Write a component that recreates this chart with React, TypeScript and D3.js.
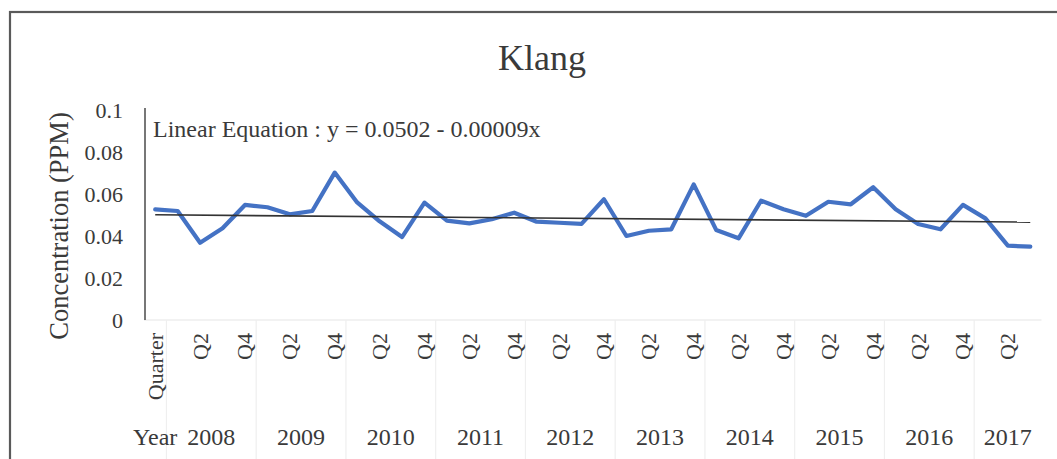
import React from "react";
import * as d3 from "d3";

// Quarterly mean concentration at Klang (PPM); first slot is the header row of the category table
const values = [
  0.0527, 0.0519, 0.0368, 0.0437, 0.0548, 0.0537, 0.0503, 0.0519, 0.0702, 0.056,
  0.047, 0.0395, 0.0559, 0.0473, 0.046, 0.048, 0.0511, 0.0468, 0.0463, 0.0458,
  0.0575, 0.04, 0.0425, 0.0432, 0.0646, 0.0429, 0.0389, 0.0568, 0.0527, 0.0496,
  0.0563, 0.0551, 0.0632, 0.0527, 0.0457, 0.0432, 0.0548, 0.0484, 0.0354, 0.0349,
];

const years = ["2008", "2009", "2010", "2011", "2012", "2013", "2014", "2015", "2016", "2017"];
const quartersPerYear = [4, 4, 4, 4, 4, 4, 4, 4, 4, 3];
const quarterNames = ["Q1", "Q2", "Q3", "Q4"];
const headerYear = "Year";
const headerQuarter = "Quarter";

const yTicks = [0, 0.02, 0.04, 0.06, 0.08, 0.1];

// Linear trend: y = a - b * x, x counted from 1
const trendIntercept = 0.0502;
const trendSlope = -0.00009;

const title = "Klang";
const yTitle = "Concentration (PPM)";
const equationText = "Linear Equation : y = 0.0502 - 0.00009x";

type Cat = { year: string; quarter: string };
const categories: Cat[] = [{ year: headerYear, quarter: headerQuarter }];
years.forEach((yr, i) => {
  for (let q = 0; q < quartersPerYear[i]; q++) categories.push({ year: yr, quarter: quarterNames[q] });
});

const W = 1057;
const H = 459;
const FONT = "'Liberation Serif', 'Times New Roman', serif";
const TEXT = "#3a3a3a";

export default function App() {
  const idx = categories.map((_, i) => i);
  const x = d3.scaleBand<number>().domain(idx).range([144, 1041.5]).paddingInner(0).paddingOuter(0);
  const bw = x.bandwidth();
  const cx = (i: number) => (x(i) as number) + bw / 2;
  const y = d3.scaleLinear().domain([0, 0.1]).range([320, 110]);

  const line = d3
    .line<number>()
    .x((_, i) => cx(i))
    .y((d) => y(d));

  const trend = d3
    .line<number>()
    .x((i) => cx(i))
    .y((i) => y(trendIntercept + trendSlope * (i + 1)));

  // year groups: label with first and last category index
  const groups: { label: string; start: number; end: number }[] = [];
  let k = 1;
  years.forEach((yr, i) => {
    groups.push({ label: yr, start: k, end: k + quartersPerYear[i] - 1 });
    k += quartersPerYear[i];
  });

  const plotLeft = x(0) as number;
  const plotRight = (x(idx.length - 1) as number) + bw;

  return (
    <svg
      width={W}
      height={H}
      style={{ position: "fixed", left: 0, top: 0, background: "#fff" }}
      fontFamily={FONT}
    >
      <rect x={0} y={0} width={W} height={H} fill="#fff" />
      {/* chart frame */}
      <rect x={10} y={12} width={1100} height={520} fill="none" stroke="#5a5a5a" strokeWidth={2.2} />

      <text x={542} y={70} textAnchor="middle" fontSize={36} fill={TEXT}>
        {title}
      </text>

      {/* y axis title */}
      <text transform={`translate(68, 226) rotate(-90)`} textAnchor="middle" fontSize={26.5} fill={TEXT}>
        {yTitle}
      </text>

      {/* y tick labels */}
      {yTicks.map((t) => (
        <text key={t} x={123} y={y(t)} textAnchor="end" dominantBaseline="central" fontSize={22} fill={TEXT}>
          {d3.format("~g")(t)}
        </text>
      ))}

      {/* category axis baseline and group separators */}
      <line x1={plotLeft} x2={plotRight} y1={y(0)} y2={y(0)} stroke="#e6e6e6" strokeWidth={1.2} />
      {groups.map((g) => (
        <line
          key={g.label}
          x1={x(g.start) as number}
          x2={x(g.start) as number}
          y1={y(0)}
          y2={H}
          stroke="#efefef"
          strokeWidth={1.2}
        />
      ))}

      {/* y axis */}
      <line x1={145} x2={145} y1={108} y2={y(0)} stroke="#555" strokeWidth={1.6} />

      {/* quarter labels, every second category */}
      {categories.map((c, i) =>
        i % 2 === 0 ? (
          <text
            key={"q" + i}
            transform={`translate(${cx(i)}, 333) rotate(-90)`}
            textAnchor="end"
            dominantBaseline="central"
            fontSize={22}
            fill={TEXT}
          >
            {c.quarter}
          </text>
        ) : null
      )}

      {/* year labels */}
      <text x={cx(0)} y={445} textAnchor="middle" fontSize={24} fill={TEXT}>
        {categories[0].year}
      </text>
      {groups.map((g) => (
        <text
          key={"y" + g.label}
          x={((x(g.start) as number) + (x(g.end) as number) + bw) / 2}
          y={445}
          textAnchor="middle"
          fontSize={24}
          fill={TEXT}
        >
          {g.label}
        </text>
      ))}

      <text x={153} y={137} fontSize={24} fill={TEXT}>
        {equationText}
      </text>

      {/* data series */}
      <path
        d={line(values) || ""}
        fill="none"
        stroke="#4472C4"
        strokeWidth={4.2}
        strokeLinejoin="round"
        strokeLinecap="round"
      />

      {/* trend line */}
      <path d={trend([0, idx.length - 1]) || ""} fill="none" stroke="#333" strokeWidth={1.6} />
    </svg>
  );
}
